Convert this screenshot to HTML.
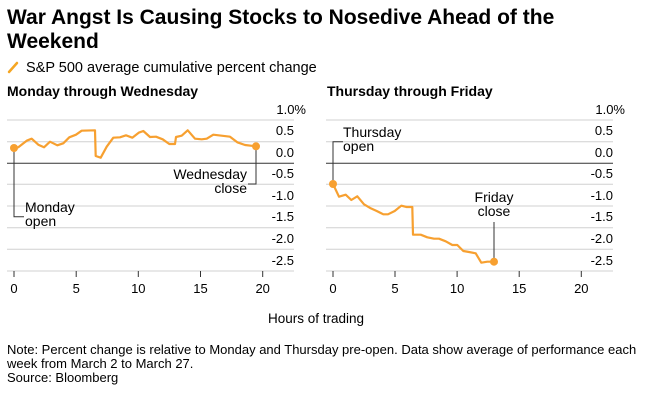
<!DOCTYPE html>
<html><head><meta charset="utf-8"><style>
body{margin:0;background:#fff;width:648px;height:400px;overflow:hidden}
svg{display:block;font-family:"Liberation Sans",Arial,sans-serif}
</style></head><body>
<svg width="648" height="400" viewBox="0 0 648 400">
<text x="7" y="24" font-size="21" font-weight="bold" fill="#000">War Angst Is Causing Stocks to Nosedive Ahead of the</text>
<text x="7" y="48" font-size="21" font-weight="bold" fill="#000">Weekend</text>
<line x1="9" y1="72" x2="17" y2="63" stroke="#f5a623" stroke-width="2.5" stroke-linecap="round"/>
<text x="26" y="72" font-size="14.5" fill="#000">S&amp;P 500 average cumulative percent change</text>
<text x="7" y="96" font-size="14" font-weight="bold">Monday through Wednesday</text>
<text x="327" y="96" font-size="14" font-weight="bold">Thursday through Friday</text>

<g stroke="#d0d0d0" stroke-width="1">
<line x1="7" y1="120" x2="294" y2="120"/><line x1="7" y1="141.7" x2="294" y2="141.7"/>
<line x1="7" y1="184.3" x2="294" y2="184.3"/><line x1="7" y1="206" x2="294" y2="206"/>
<line x1="7" y1="227.7" x2="294" y2="227.7"/><line x1="7" y1="249.3" x2="294" y2="249.3"/>
<line x1="7" y1="271" x2="294" y2="271"/>
<line x1="326" y1="120" x2="613" y2="120"/><line x1="326" y1="141.7" x2="613" y2="141.7"/>
<line x1="326" y1="184.3" x2="613" y2="184.3"/><line x1="326" y1="206" x2="613" y2="206"/>
<line x1="326" y1="227.7" x2="613" y2="227.7"/><line x1="326" y1="249.3" x2="613" y2="249.3"/>
<line x1="326" y1="271" x2="613" y2="271"/>
</g>
<line x1="7" y1="163.3" x2="294" y2="163.3" stroke="#333"/>
<line x1="326" y1="163.3" x2="613" y2="163.3" stroke="#333"/>
<g stroke="#333"><line x1="14" y1="271" x2="14" y2="277"/><line x1="76.2" y1="271" x2="76.2" y2="277"/><line x1="138.3" y1="271" x2="138.3" y2="277"/><line x1="200.5" y1="271" x2="200.5" y2="277"/><line x1="262.7" y1="271" x2="262.7" y2="277"/>
<line x1="333" y1="271" x2="333" y2="277"/><line x1="395" y1="271" x2="395" y2="277"/><line x1="457.1" y1="271" x2="457.1" y2="277"/><line x1="519.2" y1="271" x2="519.2" y2="277"/><line x1="581.3" y1="271" x2="581.3" y2="277"/></g>
<g font-size="13" text-anchor="middle" fill="#000">
<text x="14" y="293">0</text><text x="76.2" y="293">5</text><text x="138.3" y="293">10</text><text x="200.5" y="293">15</text><text x="262.7" y="293">20</text>
<text x="333" y="293">0</text><text x="395" y="293">5</text><text x="457.1" y="293">10</text><text x="519.2" y="293">15</text><text x="581.3" y="293">20</text>
</g>
<g font-size="13" text-anchor="end" fill="#000">
<text x="306" y="114">1.0%</text><text x="294" y="135">0.5</text><text x="294" y="157">0.0</text><text x="294" y="178">-0.5</text><text x="294" y="200">-1.0</text><text x="294" y="221">-1.5</text><text x="294" y="243">-2.0</text><text x="294" y="265">-2.5</text>
<text x="625" y="114">1.0%</text><text x="613" y="135">0.5</text><text x="613" y="157">0.0</text><text x="613" y="178">-0.5</text><text x="613" y="200">-1.0</text><text x="613" y="221">-1.5</text><text x="613" y="243">-2.0</text><text x="613" y="265">-2.5</text>
</g>

<g stroke="#333" fill="none" stroke-width="1">
<polyline points="14,148 14,216.7 24,216.7"/>
<polyline points="256,146 256,184 248,184"/>
<polyline points="333,184 333,141.7 343,141.7"/>
<line x1="494" y1="222" x2="494" y2="262"/>
</g>
<g font-size="14" fill="#000">
<text x="25" y="212">Monday</text><text x="25" y="226">open</text>
<text x="247" y="179" text-anchor="end">Wednesday</text><text x="247" y="193" text-anchor="end">close</text>
<text x="343" y="137">Thursday</text><text x="343" y="151">open</text>
<text x="494" y="202" text-anchor="middle">Friday</text><text x="494" y="216" text-anchor="middle">close</text>
</g>

<polyline fill="none" stroke="#f7a030" stroke-width="2.2" stroke-linejoin="round" points="14,148 18.3,147.3 26.7,140.7 31.7,138.7 38.3,144.7 44,147.3 50,141.7 57.3,145.3 63.3,143.3 69.3,137.3 76,134.7 81.7,130.7 95,130.3 95.7,156 100.7,157.7 106.7,146.7 113.3,137.7 120,137.3 126,135.3 132.3,137.7 138.7,132.7 143.3,131 150,137 156,136.7 162.7,139.3 169.3,144 175,144 176,137 181.7,135.7 187.7,130.3 195,138.7 201.7,139.3 206.7,138.7 213.3,134.7 230,136.7 237.3,142.3 245,145 256,146.3"/>
<polyline fill="none" stroke="#f7a030" stroke-width="2.2" stroke-linejoin="round" points="333,184 339,196.7 345.7,194.7 351.3,200 357.3,196.3 364,204.3 370.7,208.3 376.7,211 383.3,214.3 388,214.3 394.7,211 401.3,205.7 406.7,207 412.3,207 413,234.7 420.7,234.7 427.3,237.3 434,238.7 439,238.7 445.7,241.3 452.3,245 457.3,245 463.3,251 469,252 475.7,253.3 481.3,262.7 487.3,261.7 494,261.7"/>
<g fill="#f7a030"><circle cx="14" cy="148" r="4"/><circle cx="256" cy="146.3" r="4"/><circle cx="333" cy="184" r="4"/><circle cx="494" cy="261.7" r="4"/></g>

<text x="316" y="323" font-size="13.5" text-anchor="middle">Hours of trading</text>
<g font-size="13" fill="#000">
<text x="7" y="354">Note: Percent change is relative to Monday and Thursday pre-open. Data show average of performance each</text>
<text x="7" y="368">week from March 2 to March 27.</text>
<text x="7" y="382">Source: Bloomberg</text>
</g>
</svg>
</body></html>
